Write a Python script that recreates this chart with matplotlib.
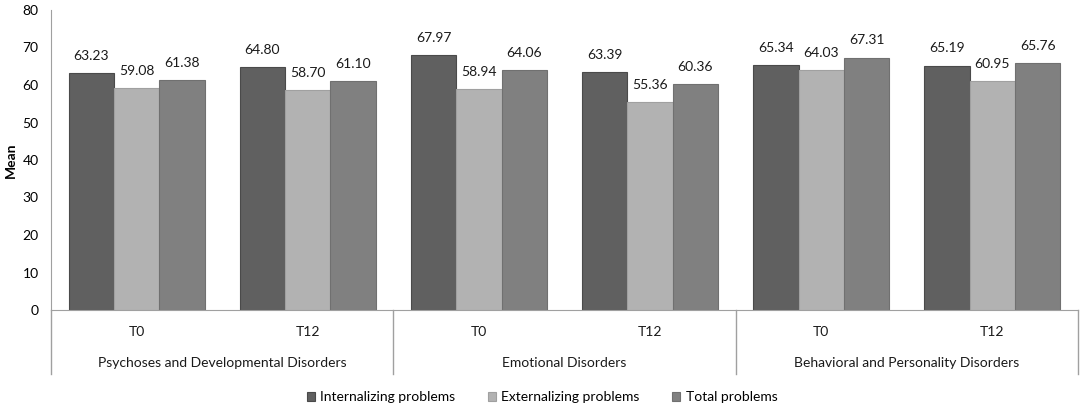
import matplotlib
matplotlib.use("Agg")
import matplotlib.pyplot as plt
import numpy as np
from matplotlib.transforms import blended_transform_factory

plt.rcParams['font.family'] = ['Lato', 'DejaVu Sans']

groups = ["Psychoses and Developmental Disorders", "Emotional Disorders",
          "Behavioral and Personality Disorders"]
times = ["T0", "T12"]
series_names = ["Internalizing problems", "Externalizing problems", "Total problems"]
internalizing = [63.23, 64.80, 67.97, 63.39, 65.34, 65.19]
externalizing = [59.08, 58.70, 58.94, 55.36, 64.03, 60.95]
total = [61.38, 61.10, 64.06, 60.36, 67.31, 65.76]
y_ticks = [0, 10, 20, 30, 40, 50, 60, 70, 80]

colors = ["#606060", "#b2b2b2", "#808080"]
edges = ["#4a4a4a", "#a0a0a0", "#707070"]

W, H = 1084, 409
fig = plt.figure(figsize=(W / 100, H / 100), dpi=100)
ax = fig.add_axes([51 / W, 1 - 310 / H, (1078 - 51) / W, 300 / H])

n = len(internalizing)
x = np.arange(n)
bw = 0.265
all_series = [internalizing, externalizing, total]
for i, (vals, name) in enumerate(zip(all_series, series_names)):
    pos = x + (i - 1) * bw
    ax.bar(pos, vals, width=bw, color=colors[i], edgecolor=edges[i],
           linewidth=0.8, label=name)
    for xp, v in zip(pos, vals):
        ax.annotate(f"{v:.2f}", (xp, v), xytext=(0, 8), textcoords="offset points",
                    ha="center", va="bottom", fontsize=10, color="#1a1a1a")

ax.set_xlim(-0.5, n - 0.5)
ax.set_ylim(0, 80)
ax.set_yticks(y_ticks)
ax.set_yticklabels([str(t) for t in y_ticks], fontsize=10)
ax.tick_params(axis="y", length=0, pad=9)
ax.set_xticks([])
for s in ["top", "right"]:
    ax.spines[s].set_visible(False)
ax.spines["left"].set_color("#a0a0a0")
ax.spines["bottom"].set_color("#a0a0a0")
ax.set_ylabel("Mean", fontsize=10, fontweight="bold", labelpad=4)

trans = blended_transform_factory(ax.transData, ax.transAxes)
# vertical separators for multi-level category axis
for xs in [-0.5, 1.5, 3.5, 5.5]:
    ax.plot([xs, xs], [0, -0.213], transform=trans, color="#a0a0a0",
            linewidth=1, clip_on=False)

for i in range(n):
    ax.text(i, -0.073, times[i % 2], transform=trans, ha="center", va="center",
            fontsize=10, color="#1a1a1a")
for g, name in enumerate(groups):
    ax.text(2 * g + 0.5, -0.177, name, transform=trans, ha="center", va="center",
            fontsize=10, color="#1a1a1a")

fig.legend(loc="center", bbox_to_anchor=(0.5, 1 - 397 / H), ncol=3,
           frameon=False, fontsize=10, handlelength=0.6, handleheight=0.6,
           columnspacing=2.3, handletextpad=0.4)

fig.savefig("out.png", dpi=100)
